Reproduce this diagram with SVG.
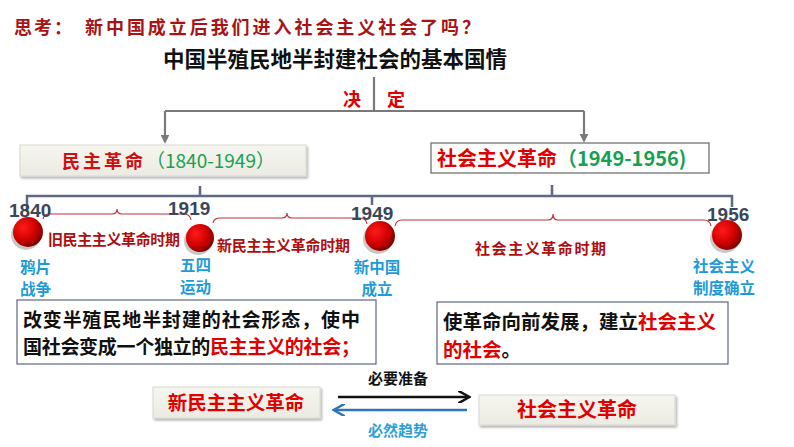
<svg xmlns="http://www.w3.org/2000/svg" width="794" height="447" viewBox="0 0 794 447">
<defs>
<style>
.cjk{font-family:"Noto Sans CJK SC","Noto Sans",sans-serif;font-weight:bold}
.q{font-family:"Noto Sans CJK SC",sans-serif;font-weight:bold;fill:#a81414;font-size:18px}
.yr{font-family:"Liberation Sans","Noto Sans",sans-serif;font-weight:bold;fill:#3a4758;font-size:19px}
.per{fill:#b00d0d;font-size:15px}
.ev{fill:#1e9bd7;font-size:15.5px}
.red{fill:#e00000}
.blk{fill:#111}
.gr{fill:#17a050}
.conn{stroke:#7a7a7a;stroke-width:2.2;fill:none}
.tl{stroke:#5e6884;stroke-width:2.5;fill:none}
.br{stroke:#c0303a;stroke-width:1.2;fill:none}
</style>
<marker id="ah" viewBox="0 0 10 10" refX="8" refY="5" markerWidth="4" markerHeight="4" orient="auto"><path d="M0,0 L10,5 L0,10 z" fill="#7a7a7a"/></marker>
<marker id="ahb" viewBox="0 0 10 10" refX="7" refY="5" markerWidth="5" markerHeight="5" orient="auto"><path d="M0,0 L9,5 L0,10" fill="none" stroke="#111" stroke-width="2"/></marker>
<marker id="ahu" viewBox="0 0 10 10" refX="7" refY="5" markerWidth="5" markerHeight="5" orient="auto"><path d="M0,0 L9,5 L0,10" fill="none" stroke="#2e75b6" stroke-width="2"/></marker>
<radialGradient id="ball" cx="0.35" cy="0.35" r="0.7">
<stop offset="0" stop-color="#ff1a1a"/><stop offset="0.6" stop-color="#d00000"/><stop offset="1" stop-color="#7a0000"/>
</radialGradient>
<linearGradient id="boxg" x1="0" y1="0" x2="0" y2="1"><stop offset="0" stop-color="#f6f6f0"/><stop offset="1" stop-color="#ebebe3"/></linearGradient>
<filter id="sh" x="-10%" y="-20%" width="130%" height="160%"><feDropShadow dx="1.5" dy="2" stdDeviation="1.2" flood-color="#000" flood-opacity="0.3"/></filter>
</defs>
<rect width="794" height="447" fill="#fff"/>

<g id="question">
<text class="q" x="14" y="34" textLength="58">思考：</text>
<text class="q" x="85" y="34" textLength="395" lengthAdjust="spacing">新中国成立后我们进入社会主义社会了吗？</text>
</g>

<g id="title"><text class="cjk blk" x="163" y="67" font-size="21.5" textLength="344">中国半殖民地半封建社会的基本国情</text></g>

<g id="connectors">
<path class="conn" d="M374,77 V111"/>
<path class="conn" d="M165,111 H584"/>
<path class="conn" d="M165,111 V142" marker-end="url(#ah)"/>
<path class="conn" d="M584,111 V141" marker-end="url(#ah)"/>
<path class="tl" d="M27,212 V196 H732 V207 M200,196 V186 M372,196 V205 M552,196 V185"/>
<path class="br" d="M43,219 Q44,214 50,214 H112 Q117,214 117,209 Q117,214 122,214 H184 Q190,214 191,220"/>
<path class="br" d="M213,223 Q214,218 220,218 H282 Q287,218 287,213 Q287,218 292,218 H360 Q366,218 367,224"/>
<path class="br" d="M395,226 Q396,220 402,220 H548 Q553,220 553,214 Q553,220 558,220 H704 Q710,220 711,226"/>
<path d="M338,397 H467" stroke="#111" stroke-width="2.5" marker-end="url(#ahb)"/>
<path d="M467,410 H336" stroke="#2e75b6" stroke-width="2.5" marker-end="url(#ahu)"/>
</g>

<g id="decide">
<text class="cjk red" x="343" y="106" font-size="18">决</text>
<text class="cjk red" x="387" y="106" font-size="18">定</text>
</g>

<g id="box-minzhu">
<rect x="20" y="145" width="286" height="31" fill="url(#boxg)" stroke="#d8d8d0" filter="url(#sh)"/>
<text x="62" y="168" font-size="18"><tspan font-family="Noto Sans CJK SC,sans-serif" font-weight="bold" fill="#d01010" letter-spacing="3">民主革命</tspan><tspan class="gr" font-family="Noto Sans CJK SC,sans-serif" font-size="19">（1840-1949）</tspan></text>
</g>

<g id="box-shehui">
<rect x="431" y="143" width="278" height="30" fill="#fff" stroke="#666" stroke-width="1.2"/>
<text class="cjk" x="437" y="166" font-size="20"><tspan class="red">社会主义革命</tspan><tspan class="gr">（1949-1956)</tspan></text>
</g>

<g id="n1840">
<text class="yr" x="9" y="217">1840</text>
<circle cx="26" cy="235" r="15" fill="#c8c8c8"/>
<circle cx="28" cy="232" r="15" fill="url(#ball)"/>
<text class="cjk ev" x="20" y="273">鸦片</text>
<text class="cjk ev" x="20" y="295">战争</text>
</g>
<g id="n1919">
<text class="yr" x="168" y="215">1919</text>
<circle cx="198" cy="241" r="14" fill="#c8c8c8"/>
<circle cx="200" cy="238" r="14" fill="url(#ball)"/>
<text class="cjk ev" x="180" y="271">五四</text>
<text class="cjk ev" x="180" y="293">运动</text>
</g>
<g id="n1949">
<text class="yr" x="351" y="220">1949</text>
<circle cx="378" cy="239" r="15" fill="#c8c8c8"/>
<circle cx="380" cy="236" r="15" fill="url(#ball)"/>
<text class="cjk ev" x="377" y="273" text-anchor="middle">新中国</text>
<text class="cjk ev" x="377" y="295" text-anchor="middle">成立</text>
</g>
<g id="n1956">
<text class="yr" x="707" y="221">1956</text>
<circle cx="725" cy="238" r="15" fill="#c8c8c8"/>
<circle cx="727" cy="235" r="15" fill="url(#ball)"/>
<text class="cjk ev" x="724" y="272" text-anchor="middle">社会主义</text>
<text class="cjk ev" x="724" y="294" text-anchor="middle">制度确立</text>
</g>

<g id="periods">
<text class="cjk per" x="48" y="245" textLength="132">旧民主主义革命时期</text>
<text class="cjk per" x="217" y="251" textLength="133">新民主主义革命时期</text>
<text class="cjk per" x="475" y="254" textLength="131">社会主义革命时期</text>
</g>

<g id="desc-left">
<rect x="17" y="300" width="359" height="64" fill="#fff" stroke="#5e6884" stroke-width="1.2"/>
<text class="cjk blk" x="23" y="327" font-size="19" textLength="337">改变半殖民地半封建的社会形态，使中</text>
<text class="cjk" x="23" y="354" font-size="19" textLength="337"><tspan class="blk">国社会变成一个独立的</tspan><tspan class="red">民主主义的社会；</tspan></text>
</g>

<g id="desc-right">
<rect x="437" y="302" width="291" height="62" fill="#fff" stroke="#5e6884" stroke-width="1.2"/>
<text class="cjk" x="443" y="329" font-size="19.5"><tspan class="blk">使革命向前发展，建立</tspan><tspan class="red">社会主义</tspan></text>
<text class="cjk" x="443" y="357" font-size="19.5"><tspan class="red">的社会</tspan><tspan class="blk">。</tspan></text>
</g>

<g id="box-xinminzhu">
<rect x="153" y="387" width="167" height="31" fill="url(#boxg)" stroke="#d8d8d0" filter="url(#sh)"/>
<text class="cjk red" x="236" y="410" font-size="19.5" text-anchor="middle">新民主主义革命</text>
</g>
<g id="box-shehuizhuyi">
<rect x="479" y="395" width="196" height="30" fill="url(#boxg)" stroke="#d8d8d0" filter="url(#sh)"/>
<text class="cjk red" x="577" y="417" font-size="20" text-anchor="middle">社会主义革命</text>
</g>

<g id="arrow-labels">
<text class="cjk blk" x="398" y="384" font-size="15" text-anchor="middle">必要准备</text>
<text class="cjk" x="398" y="436" font-size="15" text-anchor="middle" fill="#2e9fd8">必然趋势</text>
</g>
</svg>
